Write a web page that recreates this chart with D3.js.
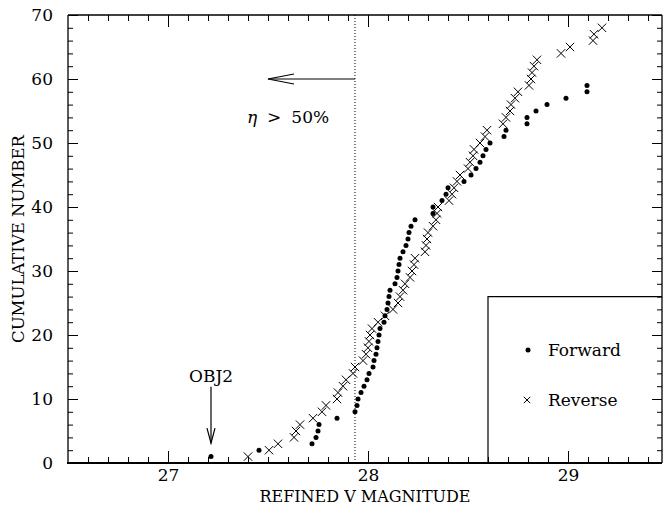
<!DOCTYPE html>
<html>
<head>
<meta charset="utf-8">
<script src="https://cdn.jsdelivr.net/npm/d3@7"></script>
<style>
  body { margin: 0; background: #fff; }
  svg { display: block; }
  text { font-family: "DejaVu Serif", serif; fill: #000; }
</style>
</head>
<body>
<script>
// Refined V magnitudes, sorted; the cumulative number is the rank (1..N)
const forwardMag = [
  27.215, 27.455, 27.72, 27.74, 27.75, 27.755, 27.845, 27.935, 27.945, 27.95,
  27.965, 27.98, 27.995, 28.005, 28.025, 28.03, 28.04, 28.045, 28.05, 28.055,
  28.06, 28.08, 28.085, 28.095, 28.10, 28.105, 28.11, 28.135, 28.145, 28.15,
  28.155, 28.16, 28.175, 28.19, 28.20, 28.205, 28.215, 28.235, 28.325, 28.325,
  28.37, 28.39, 28.40, 28.48, 28.515, 28.54, 28.56, 28.575, 28.59, 28.61,
  28.68, 28.69, 28.795, 28.795, 28.84, 28.895, 28.99, 29.095, 29.095
];
const reverseMag = [
  27.40, 27.505, 27.55, 27.63, 27.64, 27.66, 27.725, 27.77, 27.79, 27.845,
  27.85, 27.875, 27.89, 27.925, 27.935, 27.975, 27.99, 28.00, 28.005, 28.01,
  28.02, 28.05, 28.085, 28.125, 28.15, 28.16, 28.175, 28.185, 28.21, 28.22,
  28.23, 28.235, 28.285, 28.29, 28.295, 28.30, 28.325, 28.34, 28.345, 28.35,
  28.405, 28.42, 28.43, 28.445, 28.46, 28.50, 28.51, 28.525, 28.53, 28.56,
  28.585, 28.595, 28.675, 28.69, 28.71, 28.715, 28.735, 28.75, 28.805, 28.815,
  28.82, 28.83, 28.845, 28.965, 29.01, 29.125, 29.13, 29.17
];
const xTickLabels = [27, 28, 29];
const yTickLabels = [0, 10, 20, 30, 40, 50, 60, 70];
const etaLimit = 27.935;       // magnitude where recovery efficiency drops to 50%
const etaArrowTo = 27.5;
const etaArrowAt = 60;
const obj2Mag = 27.215;
const seriesNames = ["Forward", "Reverse"];

const W = 665, H = 506;
const svg = d3.select("body").append("svg").attr("width", W).attr("height", H);

const x = d3.scaleLinear().domain([26.5, 29.47]).range([68, 662]);
const y = d3.scaleLinear().domain([0, 70]).range([463, 15]);

const minorX = d3.range(266, 295).map(v => v / 10).filter(v => !xTickLabels.includes(v));
const minorY = d3.range(2, 70, 2).filter(v => v % 10 !== 0);

// Axes with inward ticks
const axes = svg.append("g").attr("class", "axes");
function addAxis(gen, tx, ty) {
  const g = axes.append("g").attr("transform", `translate(${tx},${ty})`).call(gen);
  g.select(".domain").remove();
  g.selectAll(".tick line").attr("stroke", "#000").attr("stroke-width", 1);
  g.selectAll("text").style("font-family", '"DejaVu Serif", serif').style("font-size", "17px").attr("fill", "#000");
  return g;
}
addAxis(d3.axisBottom(x).tickValues(minorX).tickSize(-6).tickFormat(""), 0, y(0));
addAxis(d3.axisBottom(x).tickValues(xTickLabels).tickSize(-12).tickPadding(6).tickFormat(d3.format("d")), 0, y(0));
addAxis(d3.axisTop(x).tickValues(minorX).tickSize(-6).tickFormat(""), 0, y(70));
addAxis(d3.axisTop(x).tickValues(xTickLabels).tickSize(-12).tickFormat(""), 0, y(70));
addAxis(d3.axisLeft(y).tickValues(minorY).tickSize(-5).tickFormat(""), x(26.5), 0);
addAxis(d3.axisLeft(y).tickValues(yTickLabels).tickSize(-10).tickPadding(15).tickFormat(d3.format("d")), x(26.5), 0);
addAxis(d3.axisRight(y).tickValues(minorY).tickSize(-5).tickFormat(""), x(29.47), 0);
addAxis(d3.axisRight(y).tickValues(yTickLabels).tickSize(-10).tickFormat(""), x(29.47), 0);

// Frame
const frame = svg.append("g").attr("stroke", "#000").attr("fill", "none");
frame.append("line").attr("x1", x(26.5)).attr("x2", x(29.47)).attr("y1", y(70)).attr("y2", y(70)).attr("stroke-width", 1.3);
frame.append("line").attr("x1", x(26.5)).attr("x2", x(26.5)).attr("y1", y(70)).attr("y2", y(0)).attr("stroke-width", 1.3);
frame.append("line").attr("x1", x(29.47)).attr("x2", x(29.47)).attr("y1", y(70)).attr("y2", y(0)).attr("stroke-width", 1.3);
frame.append("line").attr("x1", x(26.5) - 1).attr("x2", x(29.47)).attr("y1", y(0)).attr("y2", y(0)).attr("stroke-width", 2);

// Axis titles
svg.append("text").attr("x", (x(26.5) + x(29.47)) / 2).attr("y", 502)
  .attr("text-anchor", "middle").style("font-size", "16px").text("REFINED V MAGNITUDE");
svg.append("text").attr("transform", `translate(24,${(y(0) + y(70)) / 2}) rotate(-90)`)
  .attr("text-anchor", "middle").style("font-size", "16.5px").text("CUMULATIVE NUMBER");

// 50% efficiency limit
svg.append("line").attr("x1", x(etaLimit)).attr("x2", x(etaLimit)).attr("y1", y(70)).attr("y2", y(0))
  .attr("stroke", "#000").attr("stroke-width", 1).attr("stroke-dasharray", "1,2");
const ea = svg.append("g").attr("stroke", "#000").attr("fill", "none").attr("stroke-width", 1.2);
ea.append("line").attr("x1", x(etaLimit)).attr("x2", x(etaArrowTo)).attr("y1", y(etaArrowAt)).attr("y2", y(etaArrowAt));
ea.append("polyline").attr("points", [
  [x(etaArrowTo) + 26, y(etaArrowAt) - 5], [x(etaArrowTo), y(etaArrowAt)], [x(etaArrowTo) + 26, y(etaArrowAt) + 5]
].map(p => p.join(",")).join(" "));
const etaText = svg.append("text").attr("x", x(27.6)).attr("y", y(53.2)).attr("text-anchor", "middle").style("font-size", "17px");
etaText.append("tspan").style("font-style", "italic").text("η");
etaText.append("tspan").attr("dx", 10).text(">");
etaText.append("tspan").attr("dx", 10).text("50%");

// OBJ2 marker
svg.append("text").attr("x", x(obj2Mag)).attr("y", y(12.7)).attr("text-anchor", "middle").style("font-size", "17px").text("OBJ2");
const oa = svg.append("g").attr("stroke", "#000").attr("fill", "none").attr("stroke-width", 1.2);
oa.append("line").attr("x1", x(obj2Mag)).attr("x2", x(obj2Mag)).attr("y1", y(11.9)).attr("y2", y(3.1));
oa.append("polyline").attr("points", [
  [x(obj2Mag) - 4, y(3.1) - 15], [x(obj2Mag), y(3.1)], [x(obj2Mag) + 4, y(3.1) - 15]
].map(p => p.join(",")).join(" "));

// Data
const crossPath = s => `M${-s},${-s}L${s},${s}M${-s},${s}L${s},${-s}`;
svg.append("g").selectAll("circle").data(forwardMag).join("circle")
  .attr("cx", d => x(d)).attr("cy", (d, i) => y(i + 1)).attr("r", 2.5).attr("fill", "#000");
svg.append("g").selectAll("path").data(reverseMag).join("path")
  .attr("transform", (d, i) => `translate(${x(d)},${y(i + 1)})`)
  .attr("d", crossPath(4.2)).attr("stroke", "#000").attr("stroke-width", 1).attr("fill", "none");

// Legend
const lg = svg.append("g");
lg.append("path").attr("d", `M${x(29.47)},${y(26)}H${x(28.6)}V${y(0)}`).attr("stroke", "#000").attr("fill", "none").attr("stroke-width", 1.2);
lg.append("circle").attr("cx", 528).attr("cy", 350).attr("r", 2.5).attr("fill", "#000");
lg.append("text").attr("x", 548).attr("y", 356).style("font-size", "17px").text(seriesNames[0]);
lg.append("path").attr("transform", "translate(527,400)").attr("d", crossPath(3.2)).attr("stroke", "#000").attr("fill", "none");
lg.append("text").attr("x", 548).attr("y", 406).style("font-size", "17px").text(seriesNames[1]);
</script>
</body>
</html>
